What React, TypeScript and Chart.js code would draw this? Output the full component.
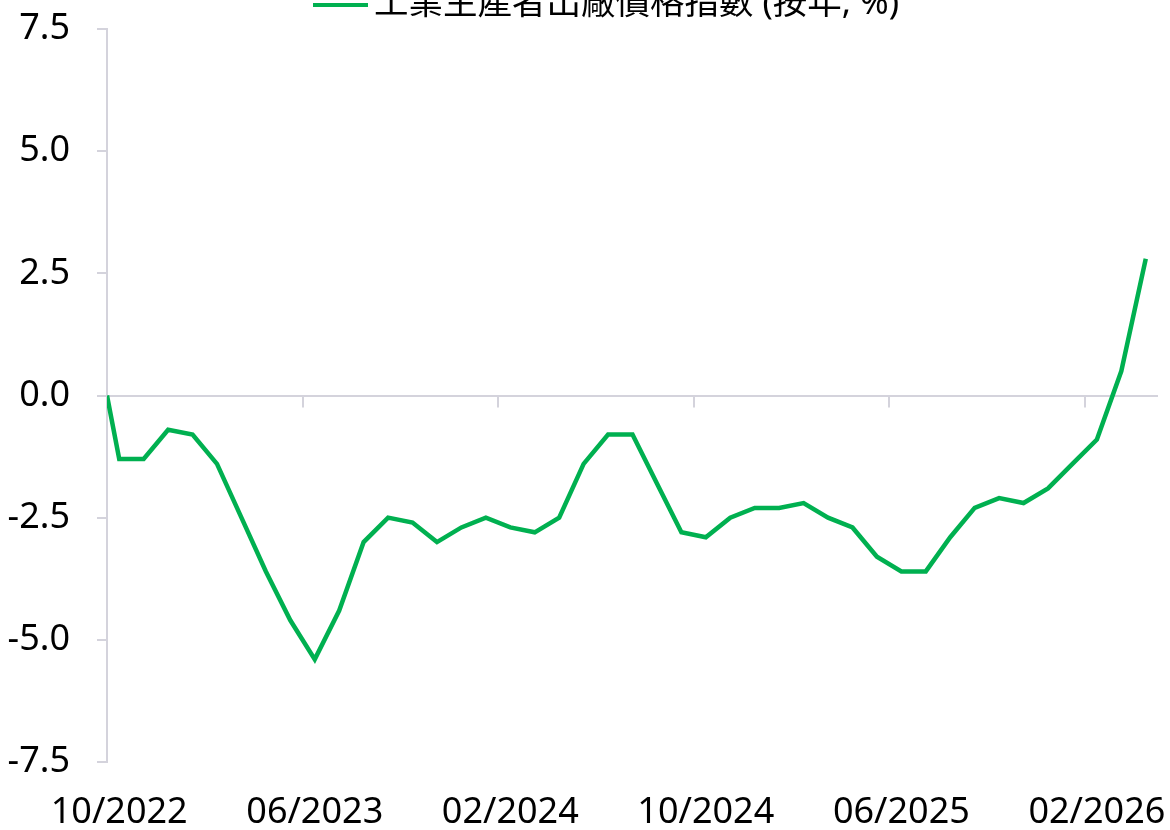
import React, { useEffect, useRef } from "react";
import { Chart, registerables } from "chart.js";

Chart.register(...registerables);

// Monthly categories (10/2022 – 04/2026)
const months: string[] = [
  "10/2022", "11/2022", "12/2022",
  "01/2023", "02/2023", "03/2023", "04/2023", "05/2023", "06/2023",
  "07/2023", "08/2023", "09/2023", "10/2023", "11/2023", "12/2023",
  "01/2024", "02/2024", "03/2024", "04/2024", "05/2024", "06/2024",
  "07/2024", "08/2024", "09/2024", "10/2024", "11/2024", "12/2024",
  "01/2025", "02/2025", "03/2025", "04/2025", "05/2025", "06/2025",
  "07/2025", "08/2025", "09/2025", "10/2025", "11/2025", "12/2025",
  "01/2026", "02/2026", "03/2026", "04/2026",
];

// PPI YoY, %
const ppiValues: number[] = [
  -1.3, -1.3, -0.7,
  -0.8, -1.4, -2.5, -3.6, -4.6, -5.4,
  -4.4, -3.0, -2.5, -2.6, -3.0, -2.7,
  -2.5, -2.7, -2.8, -2.5, -1.4, -0.8,
  -0.8, -1.8, -2.8, -2.9, -2.5, -2.3,
  -2.3, -2.2, -2.5, -2.7, -3.3, -3.6,
  -3.6, -2.9, -2.3, -2.1, -2.2, -1.9,
  -1.4, -0.9, 0.5, 2.8,
];

// line starts at the axis origin
const startValue = 0;

// x-axis labels every 8 months
const tickLabels: string[] = ["10/2022", "06/2023", "02/2024", "10/2024", "06/2025", "02/2026"];
const yTicks: number[] = [-7.5, -5.0, -2.5, 0.0, 2.5, 5.0, 7.5];

const seriesName = "工業生產者出廠價格指數 (按年, %)";
const GREEN = "#00B050";
const GRAY = "#D4D3DC";
const FONT = '"Noto Sans", "Noto Sans CJK TC", sans-serif';

export default function App() {
  const canvasRef = useRef<HTMLCanvasElement | null>(null);

  useEffect(() => {
    if (!canvasRef.current) return;

    const points = [
      { x: 0, y: startValue },
      ...ppiValues.map((v, i) => ({ x: i + 0.5, y: v })),
    ];

    const zeroTicksPlugin = {
      id: "zeroTicks",
      afterDraw(chart: any) {
        const { ctx, scales } = chart;
        const xs = scales.x;
        const ys = scales.y;
        const y0 = ys.getPixelForValue(0);
        ctx.save();
        ctx.strokeStyle = GRAY;
        ctx.lineWidth = 2;
        for (let k = 1; k < tickLabels.length; k++) {
          const px = Math.round(xs.getPixelForValue(8 * k));
          ctx.beginPath();
          ctx.moveTo(px, y0);
          ctx.lineTo(px, y0 + 12);
          ctx.stroke();
        }
        ctx.restore();
      },
    };

    const legendPlugin = {
      id: "customLegend",
      afterDraw(chart: any) {
        const { ctx } = chart;
        ctx.save();
        ctx.fillStyle = GREEN;
        ctx.fillRect(313, 3, 55, 4);
        ctx.fillStyle = "#000";
        ctx.font = `34.5px ${FONT}`;
        ctx.textBaseline = "middle";
        ctx.textAlign = "left";
        ctx.fillText(seriesName, 374, 4);
        ctx.restore();
      },
    };

    const chart = new Chart(canvasRef.current, {
      type: "line",
      data: {
        datasets: [
          {
            label: seriesName,
            data: points,
            borderColor: GREEN,
            backgroundColor: GREEN,
            borderWidth: 4.5,
            pointRadius: 0,
            tension: 0,
            fill: false,
          },
        ],
      },
      options: {
        animation: false,
        responsive: false,
        maintainAspectRatio: false,
        layout: { padding: { top: 29, right: 12, left: 8, bottom: 0 } },
        plugins: {
          legend: { display: false },
          tooltip: { enabled: false },
        },
        scales: {
          x: {
            type: "linear",
            min: 0,
            max: 43,
            afterBuildTicks(scale: any) {
              scale.ticks = tickLabels.map((_, k) => ({ value: 8 * k + 0.5 }));
            },
            afterFit(scale: any) {
              scale.paddingLeft = 0;
              scale.paddingRight = 0;
              scale.height = 68;
            },
            ticks: {
              autoSkip: false,
              maxRotation: 0,
              padding: 29,
              color: "#000",
              font: { family: FONT, size: 36 },
              callback: (value: any) => months[Math.round(Number(value) - 0.5)] ?? "",
            },
            grid: { display: false, drawTicks: false },
            border: { display: false },
          },
          y: {
            min: -7.5,
            max: 7.5,
            afterBuildTicks(scale: any) {
              scale.ticks = yTicks.map((v) => ({ value: v }));
            },
            afterFit(scale: any) {
              scale.paddingTop = 0;
              scale.paddingBottom = 0;
              scale.width = 99;
            },
            ticks: {
              padding: 27,
              color: "#000",
              font: { family: FONT, size: 36 },
              callback: (value: any) => Number(value).toFixed(1),
            },
            grid: {
              drawTicks: true,
              tickLength: 10,
              tickColor: GRAY,
              lineWidth: 2,
              color: (ctx: any) => (ctx.tick && ctx.tick.value === 0 ? GRAY : "rgba(0,0,0,0)"),
            },
            border: { display: true, color: GRAY, width: 2 },
          },
        },
      },
      plugins: [zeroTicksPlugin, legendPlugin],
    });

    return () => chart.destroy();
  }, []);

  return (
    <div style={{ position: "absolute", left: 0, top: 0, width: 1170, height: 830, overflow: "hidden", background: "#fff" }}>
      <canvas ref={canvasRef} width={1170} height={830} style={{ display: "block", width: 1170, height: 830 }} />
    </div>
  );
}
